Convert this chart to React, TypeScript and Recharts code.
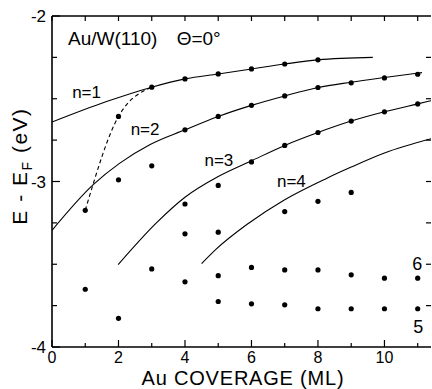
import React from 'react';
import { ComposedChart, Line, Scatter, XAxis, YAxis, ReferenceDot } from 'recharts';

// axis ticks
const xTicks = [0, 1, 2, 3, 4, 5, 6, 7, 8, 9, 10, 11];
const yTicks = [-4, -3.75, -3.5, -3.25, -3, -2.75, -2.5, -2.25, -2];

// fitted curves
const n1Curve = [
  { x: 0, y: -2.641 }, { x: 1.64, y: -2.517 }, { x: 3, y: -2.43 }, { x: 4, y: -2.38 },
  { x: 5, y: -2.35 }, { x: 6, y: -2.32 }, { x: 7, y: -2.29 }, { x: 8, y: -2.265 }, { x: 9.65, y: -2.25 },
];
const n2Curve = [
  { x: 0, y: -3.295 }, { x: 1.24, y: -3.019 }, { x: 2.04, y: -2.889 }, { x: 2.94, y: -2.778 },
  { x: 4, y: -2.688 }, { x: 5, y: -2.607 }, { x: 6, y: -2.54 }, { x: 7, y: -2.483 },
  { x: 8, y: -2.432 }, { x: 9, y: -2.4 }, { x: 10, y: -2.372 }, { x: 11.13, y: -2.342 },
];
const n3Curve = [
  { x: 1.99, y: -3.502 }, { x: 3.14, y: -3.25 }, { x: 4, y: -3.095 }, { x: 5, y: -2.97 },
  { x: 6, y: -2.875 }, { x: 7, y: -2.782 }, { x: 8, y: -2.704 }, { x: 9, y: -2.635 },
  { x: 10, y: -2.579 }, { x: 11, y: -2.531 }, { x: 11.4, y: -2.512 },
];
const n4Curve = [
  { x: 4.5, y: -3.496 }, { x: 4.93, y: -3.41 }, { x: 5.86, y: -3.26 }, { x: 7, y: -3.11 },
  { x: 8.27, y: -2.98 }, { x: 9, y: -2.913 }, { x: 10, y: -2.828 }, { x: 11.4, y: -2.742 },
];
const dashedCurve = [{ x: 1, y: -3.174 }, { x: 2, y: -2.607 }, { x: 3, y: -2.43 }];

// measured points
const n1Dots = [
  { x: 2, y: -2.607 }, { x: 3, y: -2.43 }, { x: 4, y: -2.38 }, { x: 5, y: -2.35 },
  { x: 6, y: -2.32 }, { x: 7, y: -2.29 }, { x: 8, y: -2.265 },
];
const n2Dots = [
  { x: 4, y: -2.688 }, { x: 5, y: -2.607 }, { x: 6, y: -2.54 }, { x: 7, y: -2.483 },
  { x: 8, y: -2.432 }, { x: 9, y: -2.404 }, { x: 10, y: -2.374 }, { x: 11, y: -2.352 },
];
const n3Dots = [
  { x: 6, y: -2.882 }, { x: 7, y: -2.782 }, { x: 8, y: -2.704 }, { x: 9, y: -2.635 },
  { x: 10, y: -2.579 }, { x: 11, y: -2.531 },
];
const otherDots = [
  { x: 1, y: -3.174 }, { x: 2, y: -2.99 }, { x: 3, y: -2.905 }, { x: 4, y: -3.136 },
  { x: 5, y: -3.024 }, { x: 4, y: -3.316 }, { x: 5, y: -3.306 }, { x: 7, y: -3.182 },
  { x: 8, y: -3.12 }, { x: 9, y: -3.066 }, { x: 3, y: -3.528 }, { x: 4, y: -3.606 },
  { x: 1, y: -3.651 }, { x: 2, y: -3.827 },
];
const row6Dots = [
  { x: 5, y: -3.569 }, { x: 6, y: -3.519 }, { x: 7, y: -3.534 }, { x: 8, y: -3.534 },
  { x: 9, y: -3.564 }, { x: 10, y: -3.584 }, { x: 11, y: -3.584 },
];
const row5Dots = [
  { x: 5, y: -3.725 }, { x: 6, y: -3.739 }, { x: 7, y: -3.745 }, { x: 8, y: -3.769 },
  { x: 9, y: -3.769 }, { x: 10, y: -3.769 }, { x: 11, y: -3.769 },
];

const ink = '#000';

const dot = (p: any) => <circle cx={p.cx} cy={p.cy} r={2.6} fill={ink} />;

const BottomTick = ({ x, y, payload }: any) => {
  const v = payload.value;
  const major = v % 2 === 0;
  return (
    <g>
      <line x1={x} x2={x} y1={y} y2={y - (major ? 7 : 4)} stroke={ink} strokeWidth={1.2} />
      {major && (
        <text x={x} y={y + 16} textAnchor="middle" fontSize={16} fill={ink}>
          {v}
        </text>
      )}
    </g>
  );
};

const TopTick = ({ x, y }: any) => (
  <line x1={x} x2={x} y1={y} y2={y + 5} stroke={ink} strokeWidth={1.2} />
);

const LeftTick = ({ x, y, payload }: any) => {
  const v = payload.value;
  const major = Number.isInteger(v);
  return (
    <g>
      <line x1={x} x2={x + (major ? 8 : 5)} y1={y} y2={y} stroke={ink} strokeWidth={1.2} />
      {major && (
        <text x={x - 6} y={y + 6} textAnchor="end" fontSize={17} fill={ink}>
          {v}
        </text>
      )}
    </g>
  );
};

const RightTick = ({ x, y, payload }: any) =>
  payload.value > -4 && payload.value < -2 ? (
    <line x1={x} x2={x - 5} y1={y} y2={y} stroke={ink} strokeWidth={1.2} />
  ) : (
    <g />
  );

const yTitle = () => (
  <text x={27} y={166} transform="rotate(-90 27 166)" textAnchor="middle" fontSize={21} fill={ink} letterSpacing={1.5}>
    <tspan>E - E</tspan>
    <tspan fontSize={14} dy={5}>F</tspan>
    <tspan dy={-5}> (eV)</tspan>
  </text>
);

const xTitle = () => (
  <text x={243} y={385} textAnchor="middle" fontSize={20} fill={ink} letterSpacing={0.8}>
    Au COVERAGE (ML)
  </text>
);

const note = (value: string, size = 17) => ({ value, position: 'center' as const, fontSize: size, fill: ink });
const noteLeft = (value: string) => ({ value, position: 'right' as const, offset: 0, fontSize: 19, fill: ink });

export default function App() {
  return (
    <div style={{ position: 'absolute', left: 0, top: 0, fontFamily: '"Liberation Sans", Arial, sans-serif', background: '#fff' }}>
      <ComposedChart width={432} height={389} margin={{ top: 0, right: 0, bottom: 0, left: 0 }}>
        <XAxis
          dataKey="x"
          type="number"
          domain={[0, 11.4]}
          ticks={xTicks}
          interval={0}
          allowDataOverflow
          height={42}
          tickSize={0}
          tickMargin={0}
          tickLine={false}
          axisLine={{ stroke: ink, strokeWidth: 1.6 }}
          tick={BottomTick}
          label={{ content: xTitle }}
        />
        <XAxis
          xAxisId="top"
          orientation="top"
          dataKey="x"
          type="number"
          domain={[0, 11.4]}
          ticks={xTicks}
          interval={0}
          allowDataOverflow
          height={16}
          tickSize={0}
          tickMargin={0}
          tickLine={false}
          axisLine={{ stroke: ink, strokeWidth: 1.6 }}
          tick={TopTick}
        />
        <YAxis
          dataKey="y"
          type="number"
          domain={[-4, -2]}
          ticks={yTicks}
          interval={0}
          allowDataOverflow
          width={52}
          tickSize={0}
          tickMargin={0}
          tickLine={false}
          axisLine={{ stroke: ink, strokeWidth: 1.6 }}
          tick={LeftTick}
          label={{ content: yTitle }}
        />
        <YAxis
          yAxisId="right"
          orientation="right"
          dataKey="y"
          type="number"
          domain={[-4, -2]}
          ticks={yTicks}
          interval={0}
          allowDataOverflow
          width={1}
          tickSize={0}
          tickMargin={0}
          tickLine={false}
          axisLine={false}
          tick={RightTick}
        />

        <Line data={n1Curve} dataKey="y" type="monotone" stroke={ink} strokeWidth={1.1} dot={false} activeDot={false} isAnimationActive={false} />
        <Line data={n2Curve} dataKey="y" type="monotone" stroke={ink} strokeWidth={1.1} dot={false} activeDot={false} isAnimationActive={false} />
        <Line data={n3Curve} dataKey="y" type="monotone" stroke={ink} strokeWidth={1.1} dot={false} activeDot={false} isAnimationActive={false} />
        <Line data={n4Curve} dataKey="y" type="monotone" stroke={ink} strokeWidth={1.1} dot={false} activeDot={false} isAnimationActive={false} />
        <Line data={dashedCurve} dataKey="y" type="monotone" stroke={ink} strokeWidth={1.1} strokeDasharray="4 3" dot={false} activeDot={false} isAnimationActive={false} />

        <Scatter data={n1Dots} dataKey="y" shape={dot} isAnimationActive={false} />
        <Scatter data={n2Dots} dataKey="y" shape={dot} isAnimationActive={false} />
        <Scatter data={n3Dots} dataKey="y" shape={dot} isAnimationActive={false} />
        <Scatter data={otherDots} dataKey="y" shape={dot} isAnimationActive={false} />
        <Scatter data={row6Dots} dataKey="y" shape={dot} isAnimationActive={false} />
        <Scatter data={row5Dots} dataKey="y" shape={dot} isAnimationActive={false} />

        <ReferenceDot x={0.48} y={-2.133} r={0} stroke="none" fill="none" label={noteLeft('Au/W(110)')} />
        <ReferenceDot x={3.75} y={-2.133} r={0} stroke="none" fill="none" label={noteLeft('Θ=0°')} />
        <ReferenceDot x={1.04} y={-2.462} r={0} stroke="none" fill="none" label={note('n=1')} />
        <ReferenceDot x={2.8} y={-2.683} r={0} stroke="none" fill="none" label={note('n=2')} />
        <ReferenceDot x={5.02} y={-2.87} r={0} stroke="none" fill="none" label={note('n=3')} />
        <ReferenceDot x={7.2} y={-2.997} r={0} stroke="none" fill="none" label={note('n=4')} />
        <ReferenceDot x={10.99} y={-3.498} r={0} stroke="none" fill="none" label={note('6', 18)} />
        <ReferenceDot x={11.02} y={-3.876} r={0} stroke="none" fill="none" label={note('5', 18)} />
      </ComposedChart>
    </div>
  );
}
